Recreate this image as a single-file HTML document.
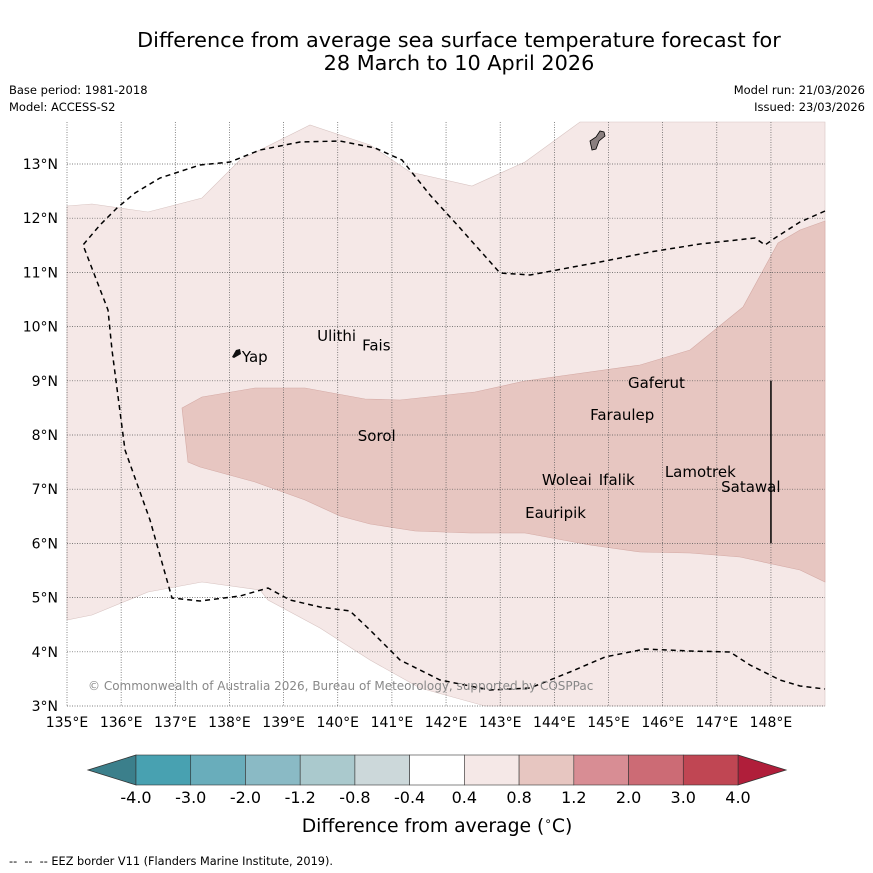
<!DOCTYPE html>
<html><head><meta charset="utf-8"><style>
html,body{margin:0;padding:0;background:#fff;}
svg{display:block;font-family:"DejaVu Sans","Liberation Sans",sans-serif;}
</style></head><body>
<svg id="c" width="873" height="873" viewBox="0 0 873 873">
<text x="459" y="47" font-size="20.8" text-anchor="middle">Difference from average sea surface temperature forecast for</text>
<text x="459" y="70" font-size="20.8" text-anchor="middle">28 March to 10 April 2026</text>
<text x="9" y="94" font-size="11.5">Base period: 1981-2018</text>
<text x="9" y="111" font-size="11.5">Model: ACCESS-S2</text>
<text x="865" y="94" font-size="11.5" text-anchor="end">Model run: 21/03/2026</text>
<text x="865" y="111" font-size="11.5" text-anchor="end">Issued: 23/03/2026</text>
<g id="map"></g>
<g id="cb"></g>
<text x="437" y="832" font-size="18.8" text-anchor="middle">Difference from average (<tspan font-size="12" dy="-7">∘</tspan><tspan dy="7">C)</tspan></text>
<text x="9" y="865" font-size="11.3">-- &#160;-- &#160;-- EEZ border V11 (Flanders Marine Institute, 2019).</text>
</svg>
<script>
const lonTicks=[135,136,137,138,139,140,141,142,143,144,145,146,147,148];
const latTicks=[3,4,5,6,7,8,9,10,11,12,13];
const cbLevels=[-4.0,-3.0,-2.0,-1.2,-0.8,-0.4,0.4,0.8,1.2,2.0,3.0,4.0];
const cbColors=["#48a1b1","#69adbb","#8abac5","#aac9cd","#ccd8da","#ffffff","#f5e8e7","#e7c6c1","#d88d94","#cc6b75","#c04653"];
const islands=[["Ulithi",139.62,9.83],["Fais",140.45,9.65],["Yap",138.23,9.44],["Gaferut",145.36,8.96],["Faraulep",144.66,8.37],["Sorol",140.37,7.98],["Woleai",143.77,7.17],["Ifalik",144.82,7.17],["Lamotrek",146.04,7.32],["Satawal",147.08,7.04],["Eauripik",143.46,6.56]];
const SVGNS="http://www.w3.org/2000/svg";
const X0=67,Y0=706,DX=54.15,DY=54.2;
function xs(lon){return X0+(lon-135)*DX;}
function ys(lat){return Y0-(lat-3)*DY;}
function mk(parent,tag,attrs){const e=document.createElementNS(SVGNS,tag);for(const k in attrs)e.setAttribute(k,attrs[k]);parent.appendChild(e);return e;}
function pix(a){return a.map(p=>p[0]+","+p[1]).join(" ");}
const map=document.getElementById("map");
const light=[[67,206],[92,204],[148,212],[202,198],[240,160],[310,125],[370,145],[410,172],[472,186],[525,162],[580,122],[825,122],[825,706],[485,706],[420,688],[370,660],[320,628],[268,600],[260,590],[202,582],[148,592],[92,615],[67,620]];
const dark=[[182,408],[202,397],[255,388],[305,388],[365,399],[400,400],[475,392],[525,381],[640,365],[690,350],[743,307],[778,243],[800,230],[825,221],[825,582],[800,570],[740,557],[690,553],[640,552],[590,545],[525,533],[470,533],[415,531],[370,524],[340,516],[305,500],[255,482],[200,467],[188,462]];
const eez1=[[825,211],[800,222],[775,238],[765,245],[755,238],[700,244],[650,252],[600,262],[530,275],[500,273],[460,228],[430,195],[402,160],[375,148],[340,141],[300,142],[260,150],[230,162],[200,165],[160,178],[135,193],[117,208],[100,225],[83,245],[108,310],[112,350],[125,450],[150,520],[172,598],[200,601],[240,596],[268,588],[290,600],[320,607],[350,611],[370,630],[400,660],[440,680],[490,690],[530,688],[570,672],[605,657],[645,649],[690,651],[730,652],[750,665],[780,680],[800,686],[825,689]];
let e;
e=mk(map,"polygon",{points:pix(light),fill:"#f5e8e7",stroke:"#d8c4c2","stroke-width":0.6});


e=mk(map,"polygon",{points:pix(dark),fill:"#e7c6c1",stroke:"#d4aaa5","stroke-width":0.6});


lonTicks.forEach(l=>{
 e=mk(map,"line",{x1:xs(l),x2:xs(l),y1:122,y2:706,stroke:"#555","stroke-width":0.7,"stroke-dasharray":"1,1.5"});
 
 
 e=mk(map,"text",{x:xs(l),y:727,"font-size":14,"text-anchor":"middle"});e.textContent=l+"°E";
 
 
});
latTicks.forEach(l=>{
 e=mk(map,"line",{x1:67,x2:825,y1:ys(l),y2:ys(l),stroke:"#555","stroke-width":0.7,"stroke-dasharray":"1,1.5"});
 
 
 e=mk(map,"text",{x:58,y:ys(l)+5,"font-size":14,"text-anchor":"end"});e.textContent=l+"°N";
 
 
});
e=mk(map,"polyline",{points:pix(eez1),fill:"none",stroke:"#000","stroke-width":1.5,"stroke-dasharray":"5,4"});


e=mk(map,"line",{x1:xs(148),x2:xs(148),y1:ys(9),y2:ys(6),stroke:"#000","stroke-width":1.5});


e=mk(map,"polygon",{points:"590,141 596,137 600,131 604,132 605,136 599,141 596,149 592,150",fill:"#8a7f7f",stroke:"#000","stroke-width":0.8});


e=mk(map,"polygon",{points:"232,357 236,350 240,349 241,354 234,358",fill:"#111"});


islands.forEach(d=>{
 e=mk(map,"text",{x:xs(d[1]),y:ys(d[2])+5,"font-size":15});e.textContent=d[0];
 
 
});
e=mk(map,"text",{x:88,y:690,"font-size":12,fill:"#888"});e.textContent="© Commonwealth of Australia 2026, Bureau of Meteorology, supported by COSPPac";


const cb=document.getElementById("cb");
const cx0=136,cx1=738,cy0=755,cy1=785,n=cbColors.length,w=(cx1-cx0)/n;
e=mk(cb,"polygon",{points:`${cx0},${cy0} 88,770 ${cx0},${cy1}`,fill:"#3b7f8b",stroke:"#333","stroke-width":0.8});


e=mk(cb,"polygon",{points:`${cx1},${cy0} 786,770 ${cx1},${cy1}`,fill:"#b01e3a",stroke:"#333","stroke-width":0.8});


cbColors.forEach((c,i)=>{
 e=mk(cb,"rect",{x:cx0+i*w,y:cy0,width:w,height:cy1-cy0,fill:c,stroke:"#333","stroke-width":0.6});
 
 
});
cbLevels.forEach((v,i)=>{
 e=mk(cb,"text",{x:cx0+i*w,y:803,"font-size":16,"text-anchor":"middle"});e.textContent=v.toFixed(1);
 
 
});
</script>
</body></html>
